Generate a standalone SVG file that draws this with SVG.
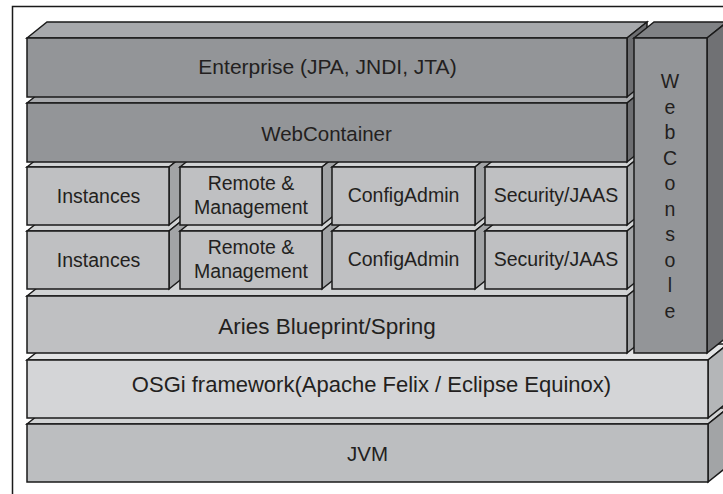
<svg xmlns="http://www.w3.org/2000/svg" width="723" height="494" viewBox="0 0 723 494">
<style>
.s{stroke:#1a1a1a;stroke-width:1.5;stroke-linejoin:miter}
.dF{fill:#939598}.dT{fill:#a7a9ac}.dS{fill:#6d6e71}
.cT{fill:#808285}.cS{fill:#707174}
.lF{fill:#bfc0c2}.lT{fill:#d1d3d4}.lS{fill:#a2a4a6}
.oF{fill:#d4d5d7}.oT{fill:#e3e4e5}.oS{fill:#b4b6b8}
.jF{fill:#bcbec0}.jT{fill:#d1d3d4}.jS{fill:#a2a4a6}
text{font-family:"Liberation Sans",Arial,sans-serif;fill:#231f20;text-anchor:middle}
.m{font-size:19.5px}
</style>
<rect x="12.5" y="6.5" width="720" height="500" fill="#ffffff" stroke="#1a1a1a" stroke-width="1.5"/>

<g id="jvm">
<polygon class="s jT" points="27,424 47,408 728,408 708,424"/>
<polygon class="s jS" points="708,424 728,408 728,466 708,482"/>
<rect class="s jF" x="27" y="424" width="681" height="58"/>
<text x="367.5" y="461" style="font-size:20.5px">JVM</text>
</g>

<g id="osgi">
<polygon class="s oT" points="27,360 47,344 728,344 708,360"/>
<polygon class="s oS" points="708,360 728,344 728,402 708,418"/>
<rect class="s oF" x="27" y="360" width="681" height="58"/>
<text x="371.5" y="392" style="font-size:22px">OSGi framework(Apache Felix / Eclipse Equinox)</text>
</g>

<g id="aries">
<polygon class="s lT" points="27,296 47,280 647,280 627,296"/>
<polygon class="s lS" points="627,296 647,280 647,337 627,353"/>
<rect class="s lF" x="27" y="296" width="600" height="57"/>
<text x="327" y="334" style="font-size:22.5px">Aries Blueprint/Spring</text>
</g>

<g id="instances2">
<polygon class="s lT" points="27,231 47,215 189,215 169,231"/>
<polygon class="s lS" points="169,231 189,215 189,273 169,289"/>
<rect class="s lF" x="27" y="231" width="142" height="58"/>
<text class="m" x="98.5" y="267">Instances</text>
</g>
<g id="remote2">
<polygon class="s lT" points="180,231 200,215 342,215 322,231"/>
<polygon class="s lS" points="322,231 342,215 342,273 322,289"/>
<rect class="s lF" x="180" y="231" width="142" height="58"/>
<text class="m" x="251" y="254">Remote &amp;</text>
<text class="m" x="251" y="278">Management</text>
</g>
<g id="configadmin2">
<polygon class="s lT" points="332,231 352,215 495,215 475,231"/>
<polygon class="s lS" points="475,231 495,215 495,273 475,289"/>
<rect class="s lF" x="332" y="231" width="143" height="58"/>
<text class="m" x="403.5" y="266" fill="#000">ConfigAdmin</text>
</g>
<g id="security2">
<polygon class="s lT" points="485,231 505,215 647,215 627,231"/>
<polygon class="s lS" points="627,231 647,215 647,273 627,289"/>
<rect class="s lF" x="485" y="231" width="142" height="58"/>
<text class="m" x="556" y="266">Security/JAAS</text>
</g>

<g id="instances1">
<polygon class="s lT" points="27,167 47,151 189,151 169,167"/>
<polygon class="s lS" points="169,167 189,151 189,209 169,225"/>
<rect class="s lF" x="27" y="167" width="142" height="58"/>
<text class="m" x="98.5" y="203">Instances</text>
</g>
<g id="remote1">
<polygon class="s lT" points="180,167 200,151 342,151 322,167"/>
<polygon class="s lS" points="322,167 342,151 342,209 322,225"/>
<rect class="s lF" x="180" y="167" width="142" height="58"/>
<text class="m" x="251" y="190">Remote &amp;</text>
<text class="m" x="251" y="214">Management</text>
</g>
<g id="configadmin1">
<polygon class="s lT" points="332,167 352,151 495,151 475,167"/>
<polygon class="s lS" points="475,167 495,151 495,209 475,225"/>
<rect class="s lF" x="332" y="167" width="143" height="58"/>
<text class="m" x="403.5" y="202">ConfigAdmin</text>
</g>
<g id="security1">
<polygon class="s lT" points="485,167 505,151 647,151 627,167"/>
<polygon class="s lS" points="627,167 647,151 647,209 627,225"/>
<rect class="s lF" x="485" y="167" width="142" height="58"/>
<text class="m" x="556" y="202">Security/JAAS</text>
</g>

<g id="webcontainer">
<polygon class="s dT" points="27,103 47,87 647,87 627,103"/>
<polygon class="s dS" points="627,103 647,87 647,146 627,162"/>
<rect class="s dF" x="27" y="103" width="600" height="59"/>
<text x="326.5" y="141" style="font-size:20.5px">WebContainer</text>
</g>

<g id="enterprise">
<polygon class="s dT" points="27,38 47,22 647,22 627,38"/>
<polygon class="s dS" points="627,38 647,22 647,81 627,97"/>
<rect class="s dF" x="27" y="38" width="600" height="59"/>
<text x="327.5" y="74" style="font-size:21px">Enterprise (JPA, JNDI, JTA)</text>
</g>

<g id="webconsole">
<polygon class="s cT" points="634,38 654,22 727,22 707,38"/>
<polygon class="s cS" points="707,38 727,22 727,337 707,353"/>
<rect class="s dF" x="634" y="38" width="73" height="315"/>
<text class="m" x="670" y="88">W</text>
<text class="m" x="670" y="113.5">e</text>
<text class="m" x="670" y="139">b</text>
<text class="m" x="670" y="164.5">C</text>
<text class="m" x="670" y="190">o</text>
<text class="m" x="670" y="215.5">n</text>
<text class="m" x="670" y="241">s</text>
<text class="m" x="670" y="266.5">o</text>
<text class="m" x="670" y="292">l</text>
<text class="m" x="670" y="317.5">e</text>
</g>

<g id="connectors"></g>
</svg>
